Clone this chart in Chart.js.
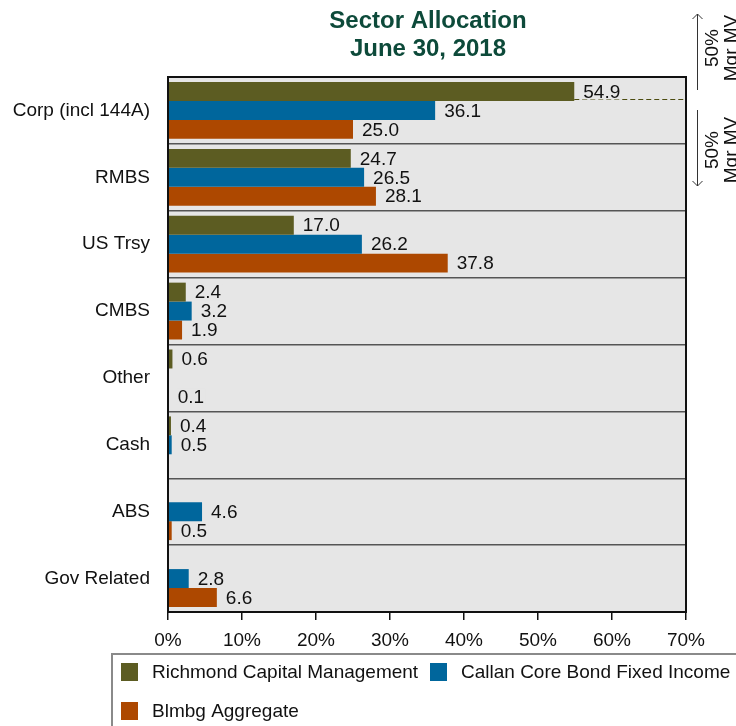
<!DOCTYPE html>
<html>
<head>
<meta charset="utf-8">
<script src="https://cdn.jsdelivr.net/npm/chart.js@4/dist/chart.umd.min.js"></script>
<style>
  html, body { margin: 0; padding: 0; background: #fff; }
  #wrap { position: relative; width: 736px; height: 726px; }
</style>
</head>
<body>
<div id="wrap"><canvas id="sector" width="736" height="726"></canvas></div>
<script>
// sector allocation data
var sectors = ["Corp (incl 144A)", "RMBS", "US Trsy", "CMBS", "Other", "Cash", "ABS", "Gov Related"];
var richmond = [54.9, 24.7, 17.0, 2.4, 0.6, 0.4, null, null];
var callan   = [36.1, 26.5, 26.2, 3.2, null, 0.5, 4.6, 2.8];
var blmbg    = [25.0, 28.1, 37.8, 1.9, 0.1, null, 0.5, 6.6];
var seriesNames = ["Richmond Capital Management", "Callan Core Bond Fixed Income", "Blmbg Aggregate"];
var seriesColors = ["#5c5c22", "#00669c", "#ad4800"];
var titleLines = ["Sector Allocation", "June 30, 2018"];
var axisMax = 70;

var FONT = "Arial, 'Liberation Sans', sans-serif";

// plot background + frame + extra annotations
var decorations = {
  id: 'decorations',
  beforeDraw: function(chart) {
    var a = chart.chartArea, ctx = chart.ctx;
    ctx.save();
    ctx.fillStyle = '#e6e6e6';
    ctx.fillRect(a.left, a.top, a.right - a.left, a.bottom - a.top);
    ctx.restore();
  },
  afterDatasetsDraw: function(chart) {
    var a = chart.chartArea, ctx = chart.ctx;
    ctx.save();

    // dashed reference line from the top bar out to the right
    var top = chart.getDatasetMeta(0).data[0];
    var yd = Math.round(top.y + top.height / 2) - 1.5;
    ctx.strokeStyle = '#4c4c10';
    ctx.lineWidth = 1;
    ctx.setLineDash([5, 3]);
    ctx.beginPath();
    ctx.moveTo(top.x, yd);
    ctx.lineTo(a.right, yd);
    ctx.stroke();
    ctx.setLineDash([]);

    // value labels
    ctx.font = '19px ' + FONT;
    ctx.textBaseline = 'middle';
    ctx.textAlign = 'left';
    chart.data.datasets.forEach(function(ds, i) {
      chart.getDatasetMeta(i).data.forEach(function(bar, j) {
        var v = ds.data[j];
        if (v === null) return;
        var txt = v.toFixed(1);
        var tx = bar.x + 9;
        var w = ctx.measureText(txt).width;
        ctx.fillStyle = '#e6e6e6';
        ctx.fillRect(tx - 1, bar.y - 8, w + 2, 16);
        ctx.fillStyle = '#111';
        ctx.fillText(txt, tx, bar.y + 1);
      });
    });

    // frame
    ctx.strokeStyle = '#111';
    ctx.lineWidth = 2;
    ctx.strokeRect(a.left, a.top, a.right - a.left, a.bottom - a.top);

    // title
    ctx.fillStyle = '#0d4a3a';
    ctx.textAlign = 'center';
    ctx.font = 'bold 24px ' + FONT;
    ctx.fillText(titleLines[0], 428, 21);
    ctx.fillText(titleLines[1], 428, 49);

    // 50% Mgr MV arrows on the right
    ctx.strokeStyle = '#333';
    ctx.lineWidth = 1;
    ctx.beginPath();
    ctx.moveTo(697.5, 14); ctx.lineTo(697.5, 90);
    ctx.moveTo(692.5, 19); ctx.lineTo(697.5, 14); ctx.lineTo(702.5, 19);
    ctx.moveTo(697.5, 110); ctx.lineTo(697.5, 186);
    ctx.moveTo(692.5, 181); ctx.lineTo(697.5, 186); ctx.lineTo(702.5, 181);
    ctx.stroke();
    ctx.fillStyle = '#111';
    ctx.font = '19px ' + FONT;
    [48, 150].forEach(function(cy) {
      ctx.save();
      ctx.translate(713, cy);
      ctx.rotate(-Math.PI / 2);
      ctx.fillText('50%', 0, 0);
      ctx.fillText('Mgr MV', 0, 19);
      ctx.restore();
    });

    // legend box
    ctx.strokeStyle = '#8a8a8a';
    ctx.lineWidth = 2;
    ctx.strokeRect(112, 654, 700, 100);
    var items = [[121, 672], [430, 672], [121, 711]];
    ctx.textAlign = 'left';
    ctx.font = '19px ' + FONT;
    items.forEach(function(p, k) {
      ctx.fillStyle = seriesColors[k];
      ctx.fillRect(p[0], p[1] - 9, 17, 18);
      ctx.fillStyle = '#111';
      ctx.fillText(seriesNames[k], p[0] + 31, p[1] + 1);
    });
    ctx.restore();
  }
};

function makeSet(name, values, color) {
  return {
    label: name,
    data: values,
    backgroundColor: color,
    borderColor: color,
    borderWidth: 0,
    barPercentage: 1.0,
    categoryPercentage: 0.85
  };
}

new Chart(document.getElementById('sector'), {
  type: 'bar',
  data: {
    labels: sectors,
    datasets: [
      makeSet(seriesNames[0], richmond, seriesColors[0]),
      makeSet(seriesNames[1], callan, seriesColors[1]),
      makeSet(seriesNames[2], blmbg, seriesColors[2])
    ]
  },
  plugins: [decorations],
  options: {
    indexAxis: 'y',
    responsive: false,
    animation: false,
    devicePixelRatio: 1,
    layout: { padding: { top: 77, right: 50, bottom: 0, left: 0 } },
    plugins: {
      legend: { display: false },
      title: { display: false },
      tooltip: { enabled: false }
    },
    scales: {
      x: {
        min: 0,
        max: axisMax,
        afterFit: function(scale) { scale.height = 114; },
        ticks: {
          stepSize: 10,
          padding: 9,
          color: '#111',
          font: { size: 19, family: FONT },
          callback: function(v) { return v + '%'; }
        },
        grid: { drawOnChartArea: false, drawTicks: true, tickLength: 8, color: '#111', lineWidth: 1.5 },
        border: { display: false }
      },
      y: {
        afterFit: function(scale) { scale.width = 168; },
        ticks: {
          padding: 18,
          color: '#111',
          font: { size: 19, family: FONT }
        },
        grid: { offset: true, drawOnChartArea: true, drawTicks: false, color: '#555', lineWidth: 1.5 },
        border: { display: false }
      }
    }
  }
});
</script>
</body>
</html>
